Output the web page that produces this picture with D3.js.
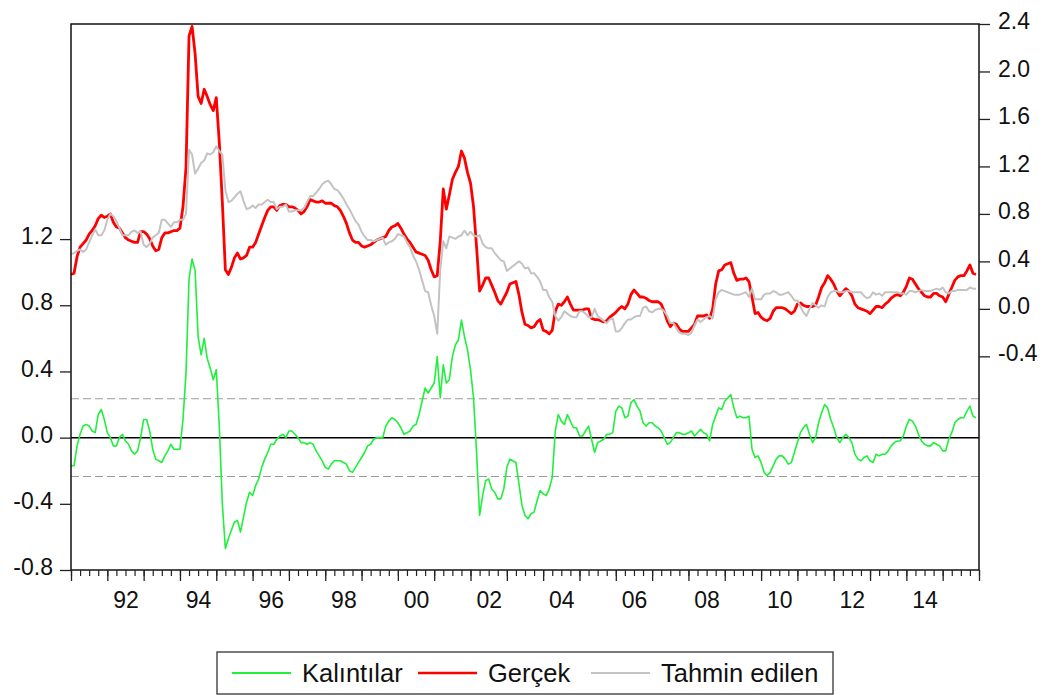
<!DOCTYPE html>
<html>
<head>
<meta charset="utf-8">
<script src="https://cdn.jsdelivr.net/npm/d3@7/dist/d3.min.js"></script>
<style>
  html, body { margin: 0; padding: 0; background: #fff; }
  svg { display: block; }
  text { font-family: "Liberation Sans", Arial, sans-serif; fill: #111; }
</style>
</head>
<body>
<svg id="chart" width="1049" height="695"></svg>
<script>
// Monthly observations 1991M01 .. 2015M12
const startYear = 1991, endYear = 2015;
const months = [];
for (let y = startYear; y <= endYear; y++) for (let m = 1; m <= 12; m++) months.push(y + "M" + String(m).padStart(2, "0"));

// Gerçek (actual) – right axis
const actual = [
  0.29,0.30,0.44,0.52,0.55,0.58,0.63,0.66,0.70,0.76,0.79,0.77,
  0.78,0.80,0.73,0.69,0.68,0.64,0.60,0.58,0.57,0.56,0.56,0.65,
  0.65,0.63,0.59,0.53,0.49,0.50,0.60,0.64,0.64,0.65,0.66,0.66,
  0.68,0.86,1.19,2.30,2.38,2.15,1.79,1.73,1.85,1.79,1.72,1.67,
  1.78,1.40,0.90,0.33,0.29,0.35,0.43,0.47,0.42,0.43,0.45,0.52,
  0.52,0.56,0.63,0.70,0.77,0.83,0.86,0.86,0.83,0.87,0.88,0.88,
  0.86,0.86,0.85,0.83,0.80,0.82,0.86,0.92,0.91,0.90,0.90,0.91,
  0.89,0.89,0.89,0.87,0.86,0.83,0.78,0.72,0.64,0.58,0.56,0.56,
  0.53,0.52,0.53,0.54,0.56,0.58,0.59,0.60,0.61,0.66,0.69,0.70,
  0.72,0.68,0.63,0.59,0.56,0.52,0.48,0.47,0.46,0.45,0.41,0.33,
  0.27,0.28,0.57,1.01,0.84,0.96,1.09,1.15,1.20,1.33,1.27,1.15,
  1.06,0.86,0.52,0.15,0.20,0.26,0.26,0.20,0.14,0.07,0.04,0.09,
  0.14,0.21,0.22,0.23,0.12,-0.03,-0.13,-0.14,-0.16,-0.15,-0.11,-0.09,
  -0.18,-0.19,-0.21,-0.18,-0.02,0.04,0.03,0.06,0.10,0.04,-0.01,-0.01,
  -0.01,-0.01,0.00,0.00,-0.08,-0.09,-0.09,-0.10,-0.11,-0.10,-0.07,-0.05,
  -0.03,0.00,0.02,0.00,0.04,0.12,0.16,0.13,0.10,0.10,0.09,0.07,
  0.06,0.06,0.06,0.04,-0.02,-0.10,-0.15,-0.12,-0.13,-0.17,-0.19,-0.19,
  -0.19,-0.16,-0.13,-0.06,-0.06,-0.06,-0.05,-0.08,0.00,0.21,0.32,0.33,
  0.37,0.38,0.39,0.30,0.24,0.25,0.25,0.26,0.23,0.10,-0.04,-0.03,
  -0.07,-0.09,-0.10,-0.08,-0.02,0.01,0.01,0.01,0.00,-0.02,-0.04,-0.02,
  0.04,0.05,0.03,0.02,0.02,0.02,0.03,0.10,0.18,0.22,0.28,0.25,
  0.21,0.15,0.11,0.14,0.17,0.15,0.11,0.04,0.01,0.00,-0.01,-0.02,
  -0.04,-0.01,0.02,0.02,0.01,0.04,0.06,0.09,0.11,0.12,0.11,0.14,
  0.19,0.26,0.25,0.21,0.17,0.14,0.11,0.10,0.10,0.13,0.13,0.11,
  0.10,0.06,0.12,0.18,0.24,0.27,0.28,0.28,0.32,0.37,0.30,0.29
];

// Tahmin edilen (fitted) – right axis
const fitted = [
  0.46,0.47,0.49,0.50,0.48,0.50,0.56,0.62,0.67,0.62,0.62,0.66,
  0.75,0.80,0.78,0.74,0.68,0.62,0.62,0.62,0.65,0.66,0.64,0.65,
  0.54,0.52,0.55,0.60,0.62,0.64,0.75,0.75,0.72,0.69,0.73,0.73,
  0.75,0.75,0.80,1.34,1.30,1.14,1.18,1.23,1.25,1.31,1.30,1.32,
  1.37,1.33,1.30,1.00,0.90,0.91,0.94,0.97,0.99,0.91,0.84,0.85,
  0.87,0.85,0.88,0.88,0.90,0.92,0.90,0.90,0.84,0.86,0.86,0.88,
  0.82,0.82,0.83,0.83,0.83,0.85,0.90,0.95,0.95,0.98,1.01,1.05,
  1.07,1.08,1.05,1.01,1.00,0.97,0.93,0.88,0.84,0.79,0.74,0.71,
  0.65,0.61,0.58,0.58,0.57,0.58,0.59,0.60,0.54,0.56,0.57,0.59,
  0.63,0.62,0.61,0.56,0.52,0.45,0.40,0.33,0.24,0.15,0.14,0.03,
  -0.06,-0.21,0.33,0.57,0.51,0.61,0.60,0.59,0.61,0.62,0.66,0.62,
  0.65,0.62,0.61,0.62,0.55,0.52,0.51,0.51,0.47,0.44,0.41,0.40,
  0.32,0.34,0.36,0.38,0.40,0.38,0.34,0.35,0.30,0.30,0.27,0.23,
  0.16,0.16,0.10,0.06,-0.06,-0.10,-0.07,-0.02,-0.04,-0.06,-0.07,-0.07,
  -0.02,-0.02,-0.04,-0.07,-0.07,0.00,-0.06,-0.08,-0.10,-0.12,-0.09,-0.08,
  -0.19,-0.19,-0.16,-0.12,-0.09,-0.09,-0.07,-0.06,-0.06,0.01,0.02,-0.02,
  -0.03,-0.01,0.00,0.00,-0.02,-0.06,-0.12,-0.12,-0.16,-0.20,-0.21,-0.21,
  -0.22,-0.20,-0.14,-0.09,-0.11,-0.09,-0.07,-0.06,-0.08,0.08,0.14,0.16,
  0.15,0.14,0.13,0.12,0.12,0.12,0.13,0.14,0.10,0.17,0.08,0.08,
  0.08,0.12,0.13,0.13,0.15,0.14,0.12,0.12,0.13,0.14,0.11,0.07,
  0.07,0.02,-0.03,-0.06,0.00,0.05,0.03,0.01,0.03,0.02,0.10,0.14,
  0.15,0.15,0.14,0.14,0.15,0.15,0.14,0.14,0.14,0.14,0.11,0.09,
  0.10,0.14,0.12,0.13,0.11,0.14,0.14,0.14,0.14,0.14,0.13,0.13,
  0.12,0.15,0.15,0.14,0.15,0.16,0.15,0.15,0.15,0.16,0.17,0.16,
  0.18,0.14,0.13,0.15,0.15,0.16,0.16,0.16,0.16,0.18,0.17,0.17
];

// Kalıntılar (residuals) – left axis
const residual = [
  -0.17,-0.17,-0.05,0.02,0.07,0.08,0.07,0.04,0.03,0.14,0.17,0.11,
  0.03,0.00,-0.05,-0.05,0.00,0.02,-0.02,-0.04,-0.08,-0.10,-0.08,0.00,
  0.11,0.11,0.04,-0.07,-0.13,-0.14,-0.15,-0.11,-0.08,-0.04,-0.07,-0.07,
  -0.07,0.11,0.39,0.96,1.08,1.01,0.61,0.50,0.60,0.48,0.42,0.35,
  0.41,0.07,-0.40,-0.67,-0.61,-0.56,-0.51,-0.50,-0.57,-0.48,-0.39,-0.33,
  -0.35,-0.29,-0.25,-0.18,-0.13,-0.09,-0.04,-0.04,-0.01,0.01,0.02,0.00,
  0.04,0.04,0.02,0.00,-0.03,-0.03,-0.04,-0.03,-0.04,-0.08,-0.11,-0.14,
  -0.18,-0.19,-0.16,-0.14,-0.14,-0.14,-0.15,-0.16,-0.20,-0.21,-0.18,-0.15,
  -0.12,-0.09,-0.05,-0.04,-0.01,0.00,0.00,0.00,0.07,0.10,0.12,0.11,
  0.09,0.06,0.02,0.03,0.04,0.07,0.08,0.14,0.22,0.30,0.27,0.30,
  0.33,0.49,0.24,0.44,0.33,0.35,0.49,0.56,0.59,0.71,0.61,0.53,
  0.41,0.24,-0.09,-0.47,-0.35,-0.26,-0.25,-0.31,-0.33,-0.37,-0.37,-0.31,
  -0.18,-0.13,-0.14,-0.15,-0.28,-0.41,-0.47,-0.49,-0.46,-0.45,-0.38,-0.32,
  -0.34,-0.35,-0.31,-0.24,0.04,0.14,0.10,0.08,0.14,0.10,0.06,0.06,
  0.01,0.01,0.04,0.07,-0.01,-0.09,-0.03,-0.02,-0.01,0.02,0.02,0.03,
  0.16,0.19,0.18,0.12,0.13,0.21,0.23,0.19,0.16,0.09,0.07,0.09,
  0.09,0.07,0.06,0.04,0.00,-0.04,-0.03,0.00,0.03,0.03,0.02,0.02,
  0.03,0.04,0.01,0.03,0.05,0.03,0.02,-0.02,0.08,0.13,0.18,0.17,
  0.22,0.24,0.26,0.18,0.12,0.13,0.12,0.12,0.13,-0.07,-0.12,-0.11,
  -0.15,-0.21,-0.23,-0.21,-0.17,-0.13,-0.11,-0.11,-0.13,-0.16,-0.15,-0.09,
  -0.03,0.03,0.06,0.08,0.02,-0.03,0.00,0.09,0.15,0.20,0.18,0.11,
  0.06,0.00,-0.03,0.00,0.02,0.00,-0.03,-0.10,-0.13,-0.14,-0.12,-0.11,
  -0.14,-0.15,-0.10,-0.11,-0.10,-0.10,-0.08,-0.05,-0.03,-0.02,-0.02,0.01,
  0.07,0.11,0.10,0.07,0.02,-0.02,-0.04,-0.05,-0.05,-0.03,-0.04,-0.05,
  -0.08,-0.08,-0.01,0.03,0.09,0.11,0.12,0.12,0.16,0.19,0.13,0.12
];

const residualSE = 0.235;            // ±1 standard error band
const leftTicks  = [-0.8, -0.4, 0.0, 0.4, 0.8, 1.2];
const rightTicks = [-0.4, 0.0, 0.4, 0.8, 1.2, 1.6, 2.0, 2.4];
const yearLabels = ["92","94","96","98","00","02","04","06","08","10","12","14"];
const labelYears = [1992,1994,1996,1998,2000,2002,2004,2006,2008,2010,2012,2014];
const legendItems = [
  {name: "Kalıntılar", color: "#1ef03c", w: 1.6},
  {name: "Gerçek", color: "#ff0000", w: 2.8},
  {name: "Tahmin edilen", color: "#c3c3c3", w: 2.0}
];

const svg = d3.select("#chart");
const L = 71, R = 979, T = 24, B = 570;
const nMonths = (endYear - startYear + 1) * 12;

const x = d3.scaleLinear().domain([0, nMonths]).range([L, R]);
const yL = d3.scaleLinear().domain([-0.8, 2.5]).range([B, T]);
const yR = d3.scaleLinear().domain([-2.2, 2.4]).range([B, T]);

const g = svg.append("g");

// ±SE dashed lines and zero line (left axis)
[residualSE, -residualSE].forEach(v => {
  g.append("line").attr("x1", L).attr("x2", R).attr("y1", yL(v)).attr("y2", yL(v))
    .attr("stroke", "#9a9a9a").attr("stroke-width", 1.2).attr("stroke-dasharray", "8,4");
});
g.append("line").attr("x1", L).attr("x2", R).attr("y1", yL(0)).attr("y2", yL(0))
  .attr("stroke", "#000").attr("stroke-width", 1.5);

// Series
const lineL = d3.line().x((d, i) => x(i)).y(d => yL(d));
const lineR = d3.line().x((d, i) => x(i)).y(d => yR(d));
g.append("path").datum(residual).attr("d", lineL).attr("fill", "none")
  .attr("stroke", legendItems[0].color).attr("stroke-width", legendItems[0].w).attr("stroke-linejoin", "round");
g.append("path").datum(actual).attr("d", lineR).attr("fill", "none")
  .attr("stroke", legendItems[1].color).attr("stroke-width", legendItems[1].w).attr("stroke-linejoin", "round");
g.append("path").datum(fitted).attr("d", lineR).attr("fill", "none")
  .attr("stroke", legendItems[2].color).attr("stroke-width", legendItems[2].w).attr("stroke-linejoin", "round");

// Frame
g.append("rect").attr("x", L).attr("y", T).attr("width", R - L).attr("height", B - T)
  .attr("fill", "none").attr("stroke", "#111").attr("stroke-width", 1.5);

const fmt = v => v.toFixed(1);
const FS = 23;

// Left axis
const axL = svg.append("g").attr("transform", `translate(${L},0)`)
  .call(d3.axisLeft(yL).tickValues(leftTicks).tickSize(11).tickPadding(7).tickFormat(fmt));
axL.select(".domain").remove();
axL.selectAll("line").attr("stroke", "#222").attr("stroke-width", 1.3);
axL.selectAll("text").attr("font-size", FS).attr("dy", "0.2em").attr("fill", "#111")
  .style("font-family", '"Liberation Sans", Arial, sans-serif');

// Right axis
const axR = svg.append("g").attr("transform", `translate(${R},0)`)
  .call(d3.axisRight(yR).tickValues(rightTicks).tickSize(11).tickPadding(8).tickFormat(fmt));
axR.select(".domain").remove();
axR.selectAll("line").attr("stroke", "#222").attr("stroke-width", 1.3);
axR.selectAll("text").attr("font-size", FS).attr("dy", "0.2em").attr("fill", "#111")
  .style("font-family", '"Liberation Sans", Arial, sans-serif');

// Bottom axis: quarterly minor ticks, yearly major ticks, labels centred on years
const axMinor = svg.append("g").attr("transform", `translate(0,${B})`)
  .call(d3.axisBottom(x).tickValues(d3.range(0, nMonths + 1, 3)).tickSize(6).tickFormat(""));
axMinor.select(".domain").remove();
axMinor.selectAll("line").attr("stroke", "#222").attr("stroke-width", 1.2);
const axMajor = svg.append("g").attr("transform", `translate(0,${B})`)
  .call(d3.axisBottom(x).tickValues(d3.range(0, nMonths + 1, 12)).tickSize(11).tickFormat(""));
axMajor.select(".domain").remove();
axMajor.selectAll("line").attr("stroke", "#222").attr("stroke-width", 1.3);
const labelPos = labelYears.map(yr => (yr - startYear) * 12 + 6);
const axLab = svg.append("g").attr("transform", `translate(0,${B})`)
  .call(d3.axisBottom(x).tickValues(labelPos).tickSize(0).tickPadding(22)
    .tickFormat((d, i) => yearLabels[i]));
axLab.select(".domain").remove();
axLab.selectAll("text").attr("font-size", FS).attr("fill", "#111")
  .style("font-family", '"Liberation Sans", Arial, sans-serif');

// Legend
const lg = svg.append("g");
lg.append("rect").attr("x", 217).attr("y", 652).attr("width", 616).attr("height", 42)
  .attr("fill", "#fff").attr("stroke", "#333").attr("stroke-width", 1.3);
const legX = [232, 418, 591];
legendItems.forEach((it, i) => {
  lg.append("line").attr("x1", legX[i]).attr("x2", legX[i] + 59).attr("y1", 673).attr("y2", 673)
    .attr("stroke", it.color).attr("stroke-width", i === 1 ? 2.6 : 2);
  lg.append("text").attr("x", legX[i] + 70).attr("y", 673).attr("dy", "0.36em")
    .attr("font-size", 25.5).text(it.name);
});
</script>
</body>
</html>
